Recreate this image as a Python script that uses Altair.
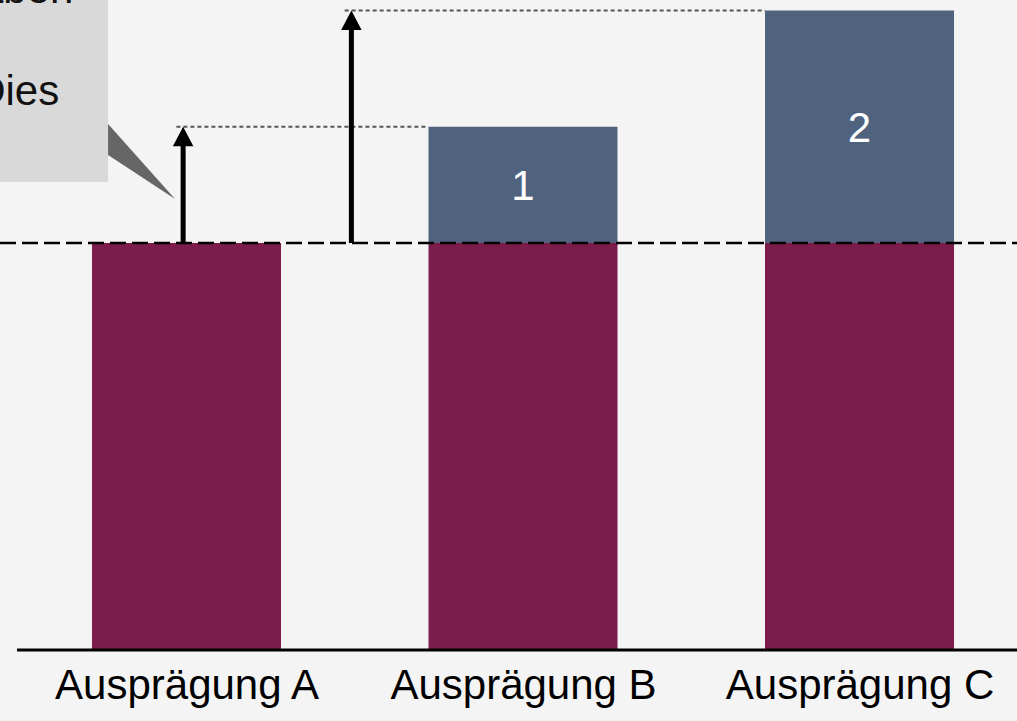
import json
import altair as alt
import pandas as pd

# ---- data ----
categories = ["Ausprägung A", "Ausprägung B", "Ausprägung C"]
positions = [1, 2, 3]
base_values = [3.5, 3.5, 3.5]
increments = [0, 1, 2]
increment_labels = ["", "1", "2"]

arrow_x = [0.99, 1.49]
arrow_from = [3.5, 3.5]
arrow_to = [4.5, 5.5]
guide_x_end = [1.719, 2.719]   # left edges of bars B and C

reference_level = 3.5

x_domain = [0.4458, 3.468]
y_domain = [0.0, 5.59]

callout_box = {"x": [0.3], "x2": [0.767], "y": [4.025], "y2": [5.8]}
callout_lines = ["aben", "Dies"]
callout_line_x = [0.386, 0.372]
callout_line_y = [5.564, 4.687]
pointer_x = [0.767, 0.966]
pointer_top = [4.523, 3.878]
pointer_bottom = [4.257, 3.878]

baseline_x = [0.4963, 3.468]

# ---- styling constants ----
MAROON = "#7b1c4a"
SLATE = "#4f637f"
BG = "#f4f4f4"
FONT = "Liberation Sans"

X = alt.Scale(domain=x_domain, nice=False, zero=False, padding=0)
Y = alt.Scale(domain=y_domain, nice=False, zero=False, padding=0)

rows = []
for c, p, b, inc, lab in zip(categories, positions, base_values, increments, increment_labels):
    rows.append({"cat": c, "pos": p, "start": 0, "end": b, "seg": "Basis", "label": ""})
    if inc > 0:
        rows.append({"cat": c, "pos": p, "start": b, "end": b + inc, "seg": "Zuwachs", "label": lab})
bars_df = pd.DataFrame(rows)
bars_df["mid"] = (bars_df["start"] + bars_df["end"]) / 2

label_expr = json.dumps(categories) + "[datum.value - 1]"

bars = alt.Chart(bars_df).mark_bar(size=189).encode(
    x=alt.X("pos:Q", scale=X, axis=alt.Axis(
        values=positions, labelExpr=label_expr, domain=False, ticks=False, grid=False,
        labelFontSize=42, labelFont=FONT, labelColor="#000000", labelPadding=15,
        labelFlush=False, labelOverlap=False, labelLimit=0, title=None)),
    y=alt.Y("start:Q", scale=Y, axis=None),
    y2="end:Q",
    color=alt.Color("seg:N", scale=alt.Scale(domain=["Basis", "Zuwachs"], range=[MAROON, SLATE]), legend=None),
)

inc_text = alt.Chart(bars_df[bars_df["label"] != ""]).mark_text(
    fontSize=42, font=FONT, color="white", baseline="middle", align="center", dy=2
).encode(
    x=alt.X("pos:Q", scale=X),
    y=alt.Y("mid:Q", scale=Y),
    text="label:N",
)

ref_df = pd.DataFrame({"x": [x_domain[0]], "x2": [x_domain[1]], "y": [reference_level]})
ref_line = alt.Chart(ref_df).mark_rule(color="black", strokeWidth=2.4, strokeDash=[16, 6]).encode(
    x=alt.X("x:Q", scale=X), x2="x2:Q", y=alt.Y("y:Q", scale=Y)
)

guide_df = pd.DataFrame({"x": [a - 0.02 for a in arrow_x], "x2": guide_x_end, "y": arrow_to})
guides = alt.Chart(guide_df).mark_rule(color="#555555", strokeWidth=2, strokeDash=[4, 3]).encode(
    x=alt.X("x:Q", scale=X), x2="x2:Q", y=alt.Y("y:Q", scale=Y)
)

arrow_df = pd.DataFrame({"x": arrow_x, "y": arrow_from, "y2": [t - 0.1 for t in arrow_to], "tip": arrow_to})
shafts = alt.Chart(arrow_df).mark_rule(color="black", strokeWidth=5).encode(
    x=alt.X("x:Q", scale=X), y=alt.Y("y:Q", scale=Y), y2="y2:Q"
)
heads = alt.Chart(arrow_df).mark_point(
    shape="M0,0L1,1.9L-1,1.9Z", size=420, filled=True, color="black", opacity=1, strokeWidth=0
).encode(x=alt.X("x:Q", scale=X), y=alt.Y("tip:Q", scale=Y))

baseline_df = pd.DataFrame({"x": [baseline_x[0]], "x2": [baseline_x[1]], "y": [0]})
baseline = alt.Chart(baseline_df).mark_rule(color="black", strokeWidth=3).encode(
    x=alt.X("x:Q", scale=X), x2="x2:Q", y=alt.Y("y:Q", scale=Y)
)

box = alt.Chart(pd.DataFrame(callout_box)).mark_rect(color="#d9d9d9").encode(
    x=alt.X("x:Q", scale=X), x2="x2:Q", y=alt.Y("y:Q", scale=Y), y2="y2:Q"
)
pointer = alt.Chart(pd.DataFrame({"x": pointer_x, "top": pointer_top, "bottom": pointer_bottom})).mark_area(
    color="#666666", opacity=1
).encode(x=alt.X("x:Q", scale=X), y=alt.Y("top:Q", scale=Y), y2="bottom:Q")
callout_text = alt.Chart(pd.DataFrame({"x": callout_line_x, "y": callout_line_y, "t": callout_lines})).mark_text(
    fontSize=42, font=FONT, color="#111111", align="left", baseline="alphabetic"
).encode(x=alt.X("x:Q", scale=X), y=alt.Y("y:Q", scale=Y), text="t:N")

chart = alt.layer(
    bars, inc_text, ref_line, guides, shafts, heads, baseline, box, pointer, callout_text
).properties(
    width=1017, height=650,
    autosize=alt.AutoSizeParams(type="none"),
    padding={"left": 0, "top": 0, "right": 0, "bottom": 71},
    background=BG,
).configure_view(stroke=None)

chart.save("out.html", embed_options={"renderer": "svg", "actions": False})
